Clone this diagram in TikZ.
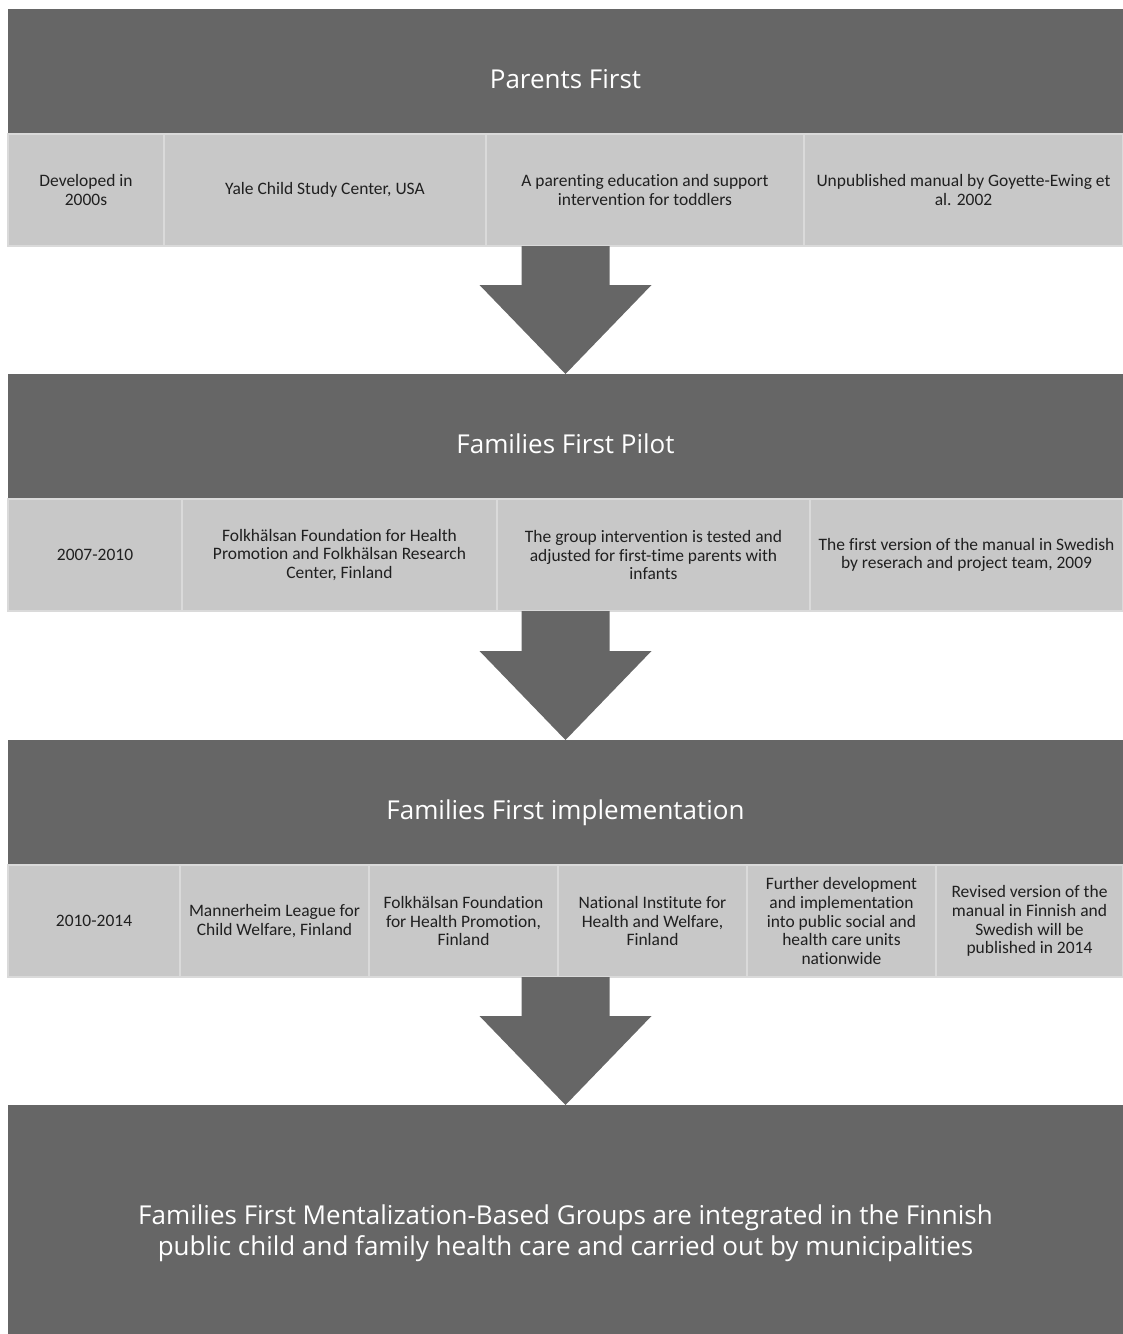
\documentclass[tikz,border=0pt]{standalone}
\usepackage{fontspec}
\setmainfont[Ligatures=NoCommon]{Carlito}
\newfontfamily\headfont{Open Sans}
\usetikzlibrary{positioning,calc}

\definecolor{darkbox}{HTML}{666666}
\definecolor{lightbox}{HTML}{C8C8C8}
\definecolor{cellline}{HTML}{DADADA}
\definecolor{celltext}{HTML}{202020}

\begin{document}
\begin{tikzpicture}[x=0.75pt,y=-0.75pt,
        every node/.style = {outer sep=0pt, inner sep=2pt, align=center},
        header/.style = {fill=darkbox, text=white, anchor=north,
        minimum width=836.25pt, minimum height=93.75pt,
        text height=26pt, text depth=0pt,
        font=\headfont\fontsize{19.5}{24}\selectfont},
        cell/.style = {fill=lightbox, draw=cellline, line width=1.2pt,
        text=celltext, minimum height=84pt,
        font=\fontsize{13.1}{14.1}\selectfont},
        blockarrow/.style = {fill=darkbox}]
    \clip (0,0) rectangle (1123,1334);

    % stage 1
    \node[header] (h1) at (565.5,9) {Parents First};
    \node[cell, minimum width=117pt, anchor=north west] (c11) at (h1.south west) {Developed in\\2000s};
    \node[cell, minimum width=241.5pt, right=0pt of c11] (c12) {Yale Child Study Center, USA};
    \node[cell, minimum width=238.5pt, right=0pt of c12] (c13) {A parenting education and support\\intervention for toddlers};
    \node[cell, minimum width=239.25pt, right=0pt of c13] (c14) {Unpublished manual by Goyette-Ewing et\\al. 2002};

    % stage 2
    \node[header] (h2) at (565.5,374) {Families First Pilot};
    \node[cell, minimum width=130.5pt, anchor=north west] (c21) at (h2.south west) {2007-2010};
    \node[cell, minimum width=236.25pt, right=0pt of c21] (c22) {Folkhälsan Foundation for Health\\Promotion and Folkhälsan Research\\Center, Finland};
    \node[cell, minimum width=234.75pt, right=0pt of c22] (c23) {The group intervention is tested and\\adjusted for first-time parents with\\infants};
    \node[cell, minimum width=234.75pt, right=0pt of c23] (c24) {The first version of the manual in Swedish\\by reserach and project team, 2009};

    % stage 3
    \node[header] (h3) at (565.5,740) {Families First implementation};
    \node[cell, minimum width=129pt, anchor=north west] (c31) at (h3.south west) {2010-2014};
    \node[cell, minimum width=141.75pt, right=0pt of c31] (c32) {Mannerheim League for\\Child Welfare, Finland};
    \node[cell, minimum width=141.75pt, right=0pt of c32] (c33) {Folkhälsan Foundation\\for Health Promotion,\\Finland};
    \node[cell, minimum width=141.75pt, right=0pt of c33] (c34) {National Institute for\\Health and Welfare,\\Finland};
    \node[cell, minimum width=141.75pt, right=0pt of c34] (c35) {Further development\\and implementation\\into public social and\\health care units\\nationwide};
    \node[cell, minimum width=140.25pt, right=0pt of c35] (c36) {Revised version of the\\manual in Finnish and\\Swedish will be\\published in 2014};

    % result (runs past the lower edge)
    \node[fill=darkbox, text=white, anchor=north, minimum width=836.25pt, minimum height=192pt,
        font=\headfont\fontsize{19.5}{23.5}\selectfont] (fin) at (565.5,1105)
        {Families First Mentalization-Based Groups are integrated in the Finnish\\public child and family health care and carried out by municipalities};

    % block arrows
    \fill[blockarrow] ($(c13.south -| h1.south)+(-44,0)$) -- ($(c13.south -| h1.south)+(44,0)$)
        -- ($(h2.north)+(44,-89)$) -- ($(h2.north)+(86,-89)$) -- (h2.north)
        -- ($(h2.north)+(-86,-89)$) -- ($(h2.north)+(-44,-89)$) -- cycle;
    \fill[blockarrow] ($(c23.south -| h2.south)+(-44,0)$) -- ($(c23.south -| h2.south)+(44,0)$)
        -- ($(h3.north)+(44,-89)$) -- ($(h3.north)+(86,-89)$) -- (h3.north)
        -- ($(h3.north)+(-86,-89)$) -- ($(h3.north)+(-44,-89)$) -- cycle;
    \fill[blockarrow] ($(c34.south -| h3.south)+(-44,0)$) -- ($(c34.south -| h3.south)+(44,0)$)
        -- ($(fin.north)+(44,-89)$) -- ($(fin.north)+(86,-89)$) -- (fin.north)
        -- ($(fin.north)+(-86,-89)$) -- ($(fin.north)+(-44,-89)$) -- cycle;
\end{tikzpicture}
\end{document}
